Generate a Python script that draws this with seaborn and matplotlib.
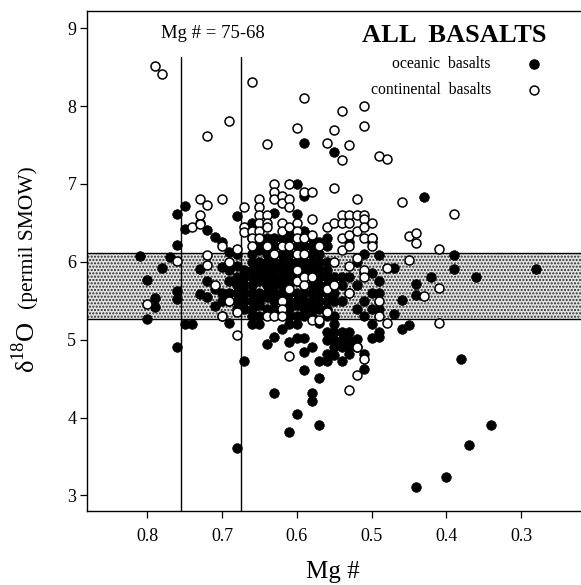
import matplotlib
matplotlib.use("Agg")
import matplotlib.pyplot as plt
import seaborn as sns
import pandas as pd

# ---------------- data ----------------
# oceanic basalts (filled)
oceanic_mg = [
    0.81, 0.80, 0.80, 0.79, 0.79, 0.78, 0.77, 0.76, 0.76, 0.76, 0.76, 0.76,
    0.75, 0.75, 0.75, 0.74, 0.73, 0.73, 0.73, 0.72, 0.72, 0.72, 0.71, 0.71, 0.71,
    0.70, 0.70, 0.70, 0.70, 0.69, 0.69, 0.69, 0.69,
    0.68, 0.68, 0.68, 0.68, 0.68, 0.68, 0.67, 0.67, 0.67, 0.67, 0.67,
    0.66, 0.66, 0.66, 0.66, 0.66, 0.66, 0.66, 0.66, 0.66,
    0.65, 0.65, 0.65, 0.65, 0.65, 0.65, 0.65, 0.65,
    0.64, 0.64, 0.64, 0.64, 0.64, 0.64, 0.64,
    0.63, 0.63, 0.63, 0.63, 0.63, 0.63, 0.63, 0.63, 0.63, 0.63, 0.63,
    0.62, 0.62, 0.62, 0.62, 0.62, 0.62, 0.62, 0.62,
    0.61, 0.61, 0.61, 0.61, 0.61, 0.61, 0.61, 0.61, 0.61, 0.61, 0.61, 0.61,
    0.60, 0.60, 0.60, 0.60, 0.60, 0.60, 0.60, 0.60, 0.60, 0.60, 0.60,
    0.59, 0.59, 0.59, 0.59, 0.59, 0.59, 0.59, 0.59, 0.59, 0.59, 0.59, 0.59, 0.59,
    0.58, 0.58, 0.58, 0.58, 0.58, 0.58, 0.58, 0.58, 0.58, 0.58, 0.58, 0.58,
    0.57, 0.57, 0.57, 0.57, 0.57, 0.57, 0.57, 0.57, 0.57, 0.57,
    0.56, 0.56, 0.56, 0.56, 0.56, 0.56, 0.56, 0.56, 0.56, 0.56,
    0.55, 0.55, 0.55, 0.55, 0.55, 0.55, 0.55, 0.55,
    0.54, 0.54, 0.54, 0.54, 0.54,
    0.53, 0.53, 0.53, 0.53, 0.53, 0.53,
    0.52, 0.52, 0.52, 0.52, 0.52,
    0.51, 0.51, 0.51, 0.51, 0.51, 0.51,
    0.50, 0.50, 0.50, 0.50, 0.50, 0.50, 0.50,
    0.49, 0.49, 0.49, 0.49, 0.49, 0.49,
    0.47, 0.47, 0.46, 0.46, 0.45, 0.44, 0.44, 0.44, 0.43, 0.42, 0.40,
    0.39, 0.39, 0.38, 0.37, 0.36, 0.34, 0.28,
]
oceanic_d18o = [
    6.07, 5.77, 5.26, 5.54, 5.42, 5.92, 6.06, 6.21, 6.61, 5.62, 5.52, 4.91,
    6.71, 6.42, 5.20, 5.20, 6.50, 5.91, 5.58, 6.41, 5.75, 5.55, 6.32, 5.43, 5.65,
    6.26, 5.93, 5.60, 5.30, 6.12, 5.90, 5.60, 5.21,
    6.59, 6.10, 5.80, 5.60, 5.40, 3.61, 5.90, 5.70, 5.50, 5.40, 4.73,
    6.50, 6.30, 6.10, 5.90, 5.80, 5.70, 5.50, 5.40, 5.20,
    6.15, 6.00, 5.90, 5.75, 5.60, 5.45, 5.30, 5.20,
    6.10, 5.95, 5.85, 5.70, 5.55, 5.40, 4.94,
    6.63, 6.20, 6.00, 5.90, 5.80, 5.70, 5.60, 5.50, 5.40, 5.03, 4.31,
    6.30, 6.10, 6.00, 5.90, 5.80, 5.70, 5.60, 5.14,
    6.40, 6.30, 6.00, 5.90, 5.80, 5.70, 5.50, 5.40, 5.30, 5.20, 4.97, 3.81,
    7.00, 6.61, 6.20, 6.00, 5.85, 5.60, 5.45, 5.30, 5.20, 5.02, 4.04,
    7.52, 6.84, 6.40, 6.20, 6.00, 5.90, 5.80, 5.60, 5.50, 5.30, 5.02, 4.84, 4.61,
    6.20, 6.10, 6.00, 5.90, 5.70, 5.60, 5.50, 5.40, 5.30, 4.91, 4.31, 4.21,
    6.25, 6.10, 5.90, 5.70, 5.50, 5.40, 5.22, 4.72, 4.51, 3.91,
    6.30, 6.20, 6.00, 5.90, 5.60, 5.50, 5.30, 5.00, 4.82, 4.72,
    7.41, 5.80, 5.50, 5.20, 5.10, 5.00, 4.90, 4.80,
    5.80, 5.70, 5.50, 5.10, 4.72,
    6.25, 5.80, 5.60, 5.10, 5.00, 4.82,
    6.00, 5.70, 5.40, 5.01, 4.91,
    6.10, 5.85, 5.50, 5.30, 4.82, 4.62,
    6.30, 6.25, 5.85, 5.60, 5.40, 5.20, 5.02,
    6.09, 5.75, 5.60, 5.40, 5.10, 5.03,
    5.92, 5.33, 5.51, 5.14, 5.19, 5.71, 5.57, 3.11, 6.83, 5.81, 3.24,
    6.09, 5.91, 4.75, 3.65, 5.81, 3.91, 5.91,
]

# oceanic basalts in the densest part of the cluster
oceanic_dense_mg = [
    0.70, 0.69, 0.69, 0.68, 0.68, 0.68, 0.67, 0.67,
    0.66, 0.66, 0.66, 0.65, 0.65, 0.65,
    0.64, 0.64, 0.64, 0.64,
    0.63, 0.63, 0.63, 0.63, 0.63,
    0.62, 0.62, 0.62, 0.62, 0.62,
    0.61, 0.61, 0.61, 0.61,
    0.60, 0.60, 0.60, 0.60, 0.60,
    0.59, 0.59, 0.59, 0.59, 0.59,
    0.58, 0.58, 0.58, 0.58,
    0.57, 0.57, 0.57,
    0.56, 0.56, 0.56, 0.56,
    0.55, 0.55, 0.55,
    0.54, 0.54, 0.53, 0.53,
]
oceanic_dense_d18o = [
    5.50, 5.50, 5.75, 5.50, 5.70, 5.95, 5.60, 5.80,
    6.00, 5.60, 5.30, 6.25, 5.85, 5.50,
    6.30, 6.00, 5.80, 5.60,
    6.30, 6.10, 5.95, 5.75, 5.55,
    6.20, 5.95, 5.75, 5.50, 5.40,
    6.10, 5.95, 5.75, 5.60,
    6.30, 6.10, 5.95, 5.75, 5.50,
    6.30, 6.10, 5.95, 5.70, 5.40,
    6.30, 5.95, 5.80, 5.45,
    6.00, 5.80, 5.60,
    5.80, 5.70, 5.40, 5.10,
    5.70, 5.60, 5.30,
    4.90, 5.00, 4.90, 4.95,
]

# continental basalts (open)
continental_mg = [
    0.79, 0.78, 0.80, 0.76, 0.74, 0.73, 0.73, 0.73, 0.72, 0.72, 0.72, 0.72,
    0.71, 0.70, 0.70, 0.70, 0.69, 0.69, 0.69, 0.68, 0.68, 0.68,
    0.67, 0.67, 0.67, 0.66, 0.66, 0.66, 0.66,
    0.65, 0.65, 0.65, 0.65, 0.65, 0.65,
    0.64, 0.64, 0.64, 0.64, 0.64, 0.64,
    0.63, 0.63, 0.63, 0.63, 0.63,
    0.62, 0.62, 0.62, 0.62, 0.62, 0.62, 0.62, 0.62,
    0.61, 0.61, 0.61, 0.61, 0.61, 0.61, 0.61,
    0.60, 0.60, 0.60, 0.60, 0.60, 0.60, 0.60,
    0.59, 0.59, 0.59, 0.59, 0.59, 0.59,
    0.58, 0.58, 0.58, 0.58, 0.58,
    0.57, 0.57,
    0.56, 0.56, 0.56, 0.56,
    0.55, 0.55, 0.55, 0.55, 0.55,
    0.54, 0.54, 0.54, 0.54, 0.54, 0.54,
    0.53, 0.53, 0.53, 0.53, 0.53, 0.53, 0.53, 0.53,
    0.52, 0.52, 0.52, 0.52, 0.52, 0.52,
    0.51, 0.51, 0.51, 0.51, 0.51, 0.51, 0.51, 0.51, 0.51,
    0.50, 0.50, 0.50,
    0.49, 0.49, 0.49,
    0.48, 0.48, 0.48,
    0.46, 0.45, 0.45, 0.44, 0.44, 0.43, 0.41, 0.41, 0.41, 0.39,
]
continental_d18o = [
    8.51, 8.41, 5.46, 6.01, 6.45, 6.80, 6.60, 6.48, 7.62, 6.73, 6.09, 5.96,
    5.70, 6.81, 6.20, 5.30, 7.81, 6.00, 5.50, 6.17, 5.35, 5.06,
    6.70, 6.45, 6.38, 8.31, 6.40, 6.30, 6.20,
    6.80, 6.70, 6.60, 6.50, 6.40, 6.30,
    7.51, 6.60, 6.50, 6.45, 6.20, 5.30,
    7.00, 6.90, 6.80, 6.10, 5.30,
    6.85, 6.75, 6.50, 6.40, 6.20, 5.50, 5.40, 5.30,
    7.00, 6.80, 6.70, 6.45, 6.20, 5.65, 4.79,
    7.72, 6.50, 6.40, 6.30, 6.10, 5.90, 5.75,
    8.10, 6.90, 6.30, 6.10, 5.80, 5.70,
    6.90, 6.55, 6.35, 5.80, 5.25,
    6.20, 5.25,
    7.52, 6.45, 5.65, 5.35,
    7.69, 6.95, 6.50, 6.00, 5.70,
    7.93, 7.31, 6.60, 6.50, 6.30, 6.15,
    7.50, 6.60, 6.50, 6.35, 6.20, 5.95, 5.60, 4.36,
    6.80, 6.60, 6.40, 6.05, 4.55, 4.90,
    8.00, 7.74, 6.60, 6.55, 6.45, 6.30, 5.90, 5.80, 4.75,
    6.50, 6.30, 6.20,
    7.36, 5.50, 5.30,
    7.32, 5.92, 5.21,
    6.77, 6.33, 6.02, 6.37, 6.24, 5.56, 6.17, 5.66, 5.21, 6.61,
]

x_ticks = [0.8, 0.7, 0.6, 0.5, 0.4, 0.3]
y_ticks = [3, 4, 5, 6, 7, 8, 9]
band = (5.26, 6.11)            # mantle range band
mg_lines = [0.755, 0.675]      # Mg # = 75-68 lines
line_top = 8.63

# ---------------- style ----------------
sns.set_style("ticks")
plt.rcParams["font.family"] = ["Liberation Serif", "DejaVu Serif"]
plt.rcParams["mathtext.fontset"] = "custom"
plt.rcParams["mathtext.rm"] = "Liberation Serif"
plt.rcParams["text.color"] = "black"
plt.rcParams["axes.labelcolor"] = "black"
plt.rcParams["xtick.color"] = "black"
plt.rcParams["ytick.color"] = "black"
plt.rcParams["hatch.linewidth"] = 1.0

fig = plt.figure(figsize=(5.81, 5.85), dpi=100)
ax = fig.add_axes([0.1504, 0.1265, 0.8496, 0.8547])

ax.set_xlim(0.88, 0.22)
ax.set_ylim(2.80, 9.22)

# shaded band
ax.axhspan(band[0], band[1], facecolor="#e2e2e2", edgecolor="#2a2a2a",
           linewidth=0, hatch=".....", zorder=0)
ax.axhline(band[0], color="black", lw=1.0, zorder=1)
ax.axhline(band[1], color="black", lw=1.0, zorder=1)

for xv in mg_lines:
    ax.plot([xv, xv], [2.80, line_top], color="black", lw=1.0, zorder=1)

oce = pd.DataFrame({"mg": oceanic_mg + oceanic_dense_mg,
                    "d18o": oceanic_d18o + oceanic_dense_d18o})
con = pd.DataFrame({"mg": continental_mg, "d18o": continental_d18o})

sns.scatterplot(data=oce, x="mg", y="d18o", ax=ax, s=48, color="black",
                edgecolor="black", linewidth=0.5, zorder=3)
sns.scatterplot(data=con, x="mg", y="d18o", ax=ax, s=42, color="white",
                edgecolor="black", linewidth=1.1, zorder=4)

ax.set_xticks(x_ticks)
ax.set_xticklabels([f"{v:.1f}" for v in x_ticks])
ax.set_yticks(y_ticks)
ax.set_yticklabels([str(v) for v in y_ticks])
ax.tick_params(axis="both", direction="out", length=5, width=0.9,
               labelsize=13, colors="black", pad=3)
ax.tick_params(axis="x", pad=7)

for side in ["left", "bottom", "top"]:
    ax.spines[side].set_linewidth(1.0)
    ax.spines[side].set_color("black")
ax.spines["right"].set_visible(False)
ax.spines["top"].set_visible(True)

ax.set_xlabel("")
ax.set_ylabel("")
fig.text(333 / 581, 1 - 572 / 585, "Mg #", fontsize=18, ha="center", va="center")

# y label: delta 18 O large (bottom), (permil SMOW) smaller (above)
fig.text(26 / 581, 1 - 347 / 585, r"δ$^{\mathrm{18}}$O", fontsize=19, rotation=90,
         ha="center", va="center")
fig.text(28 / 581, 1 - 238 / 585, "(permil SMOW)", fontsize=15.5, rotation=90,
         ha="center", va="center")

# annotations
fig.text(213 / 581, 1 - 34 / 585, "Mg # = 75-68", fontsize=13.5,
         ha="center", va="center")
fig.text(454 / 581, 1 - 36 / 585, "ALL  BASALTS", fontsize=19, fontweight="bold",
         ha="center", va="center")
fig.text(491 / 581, 1 - 64 / 585, "oceanic  basalts", fontsize=11.3,
         ha="right", va="center")
fig.text(491 / 581, 1 - 90 / 585, "continental  basalts", fontsize=11.3,
         ha="right", va="center")
ax.plot([534 / 581], [1 - 64 / 585], marker="o", ms=6.6, color="black",
        mec="black", transform=fig.transFigure, clip_on=False, zorder=5)
ax.plot([534 / 581], [1 - 90 / 585], marker="o", ms=6.4, mfc="white",
        mec="black", mew=1.1, transform=fig.transFigure, clip_on=False, zorder=5)

fig.savefig("out.png", dpi=100)
